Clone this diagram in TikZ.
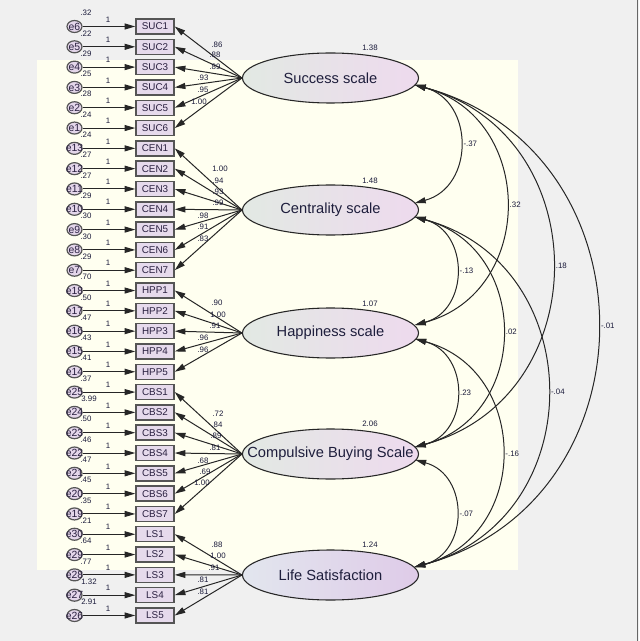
\documentclass[tikz,border=0pt]{standalone}
\usepackage{fontspec}
\setmainfont{Liberation Sans}
\usetikzlibrary{arrows.meta,shapes.geometric,calc}
\definecolor{bggray}{HTML}{F0F0F0}
\definecolor{bgyel}{HTML}{FFFFF0}
\definecolor{boxline}{HTML}{555555}
\definecolor{boxfill}{HTML}{E6DAEC}
\definecolor{errfill}{HTML}{E4D6EA}
\definecolor{latl}{HTML}{E2E9E3}
\definecolor{latr}{HTML}{EEDAEE}
\definecolor{latlb}{HTML}{E2E6EE}
\definecolor{latrb}{HTML}{DFCBE8}
\definecolor{numc}{HTML}{1A1A3A}
\definecolor{boxtext}{HTML}{2A2040}
\definecolor{lattext}{HTML}{1E1E3C}
\begin{document}
\begin{tikzpicture}[x=0.75pt,y=-0.75pt,
  every node/.style={inner sep=0pt},
  num/.style={font=\fontsize{5.9}{7}\selectfont, text=numc},
  box/.style={rectangle, draw=boxline, line width=1.1pt, fill=boxfill, minimum width=28.5pt, minimum height=11.25pt, font=\fontsize{7.4}{8}\selectfont, text=boxtext},
  err/.style={ellipse, draw=boxline, line width=0.9pt, fill=errfill, minimum width=11.25pt, minimum height=9pt},
  errlab/.style={font=\fontsize{7.8}{9}\selectfont, text=boxtext},
  lat/.style={ellipse, draw=black!85, line width=0.8pt, minimum width=132pt, minimum height=37.5pt, left color=latl, right color=latr},
  latb/.style={lat, left color=latlb, right color=latrb},
  lattxt/.style={font=\fontsize{11}{13}\selectfont, text=lattext},
  arr/.style={-{Triangle[length=8pt,width=4.5pt]}, line width=0.75pt, draw=black!85},
  cov/.style={{Triangle[length=8pt,width=4.5pt]}-{Triangle[length=8pt,width=4.5pt]}, line width=0.75pt, draw=black!85},
  bl/.style={bend left=75, looseness=1.34}
]
\useasboundingbox (0,0) rectangle (639,641);
\fill[bggray] (0,0) rectangle (639,641);
\fill[bgyel] (37,60) rectangle (518,570);
\draw[gray!80!black, line width=1pt] (637.5,0) -- (637.5,641);

% indicators and errors
\foreach \i/\b/\e/\v/\vx in {0/SUC1/6/.32/86, 1/SUC2/5/.22/86, 2/SUC3/4/.29/86, 3/SUC4/3/.25/86, 4/SUC5/2/.28/86, 5/SUC6/1/.24/86,
  6/CEN1/13/.24/86, 7/CEN2/12/.27/86, 8/CEN3/11/.27/86, 9/CEN4/10/.29/86, 10/CEN5/9/.30/86, 11/CEN6/8/.30/86, 12/CEN7/7/.29/86,
  13/HPP1/18/.70/86, 14/HPP2/17/.50/86, 15/HPP3/16/.47/86, 16/HPP4/15/.43/86, 17/HPP5/14/.41/86,
  18/CBS1/25/.37/86, 19/CBS2/24/3.99/89, 20/CBS3/23/.50/86, 21/CBS4/22/.46/86, 22/CBS5/21/.47/86, 23/CBS6/20/.45/86, 24/CBS7/19/.35/86,
  25/LS1/30/.21/86, 26/LS2/29/.64/86, 27/LS3/28/.77/86, 28/LS4/27/1.32/89, 29/LS5/26/2.91/89} {
  \pgfmathsetmacro\yy{26.5+20.31*\i}
  \node[box] (\b) at (155,\yy) {\b};
  \node[err, label={[errlab]center:e\e}] (e\e) at (74.5,\yy) {};
  \draw[arr] (e\e) -- (\b);
  \node[num] at (108,\yy-7) {1};
  \node[num] at (\vx,\yy-13.5) {\v};
}

% latent variables
\node[lat, label={[lattxt]center:Success scale}] (S) at (330.5,78) {};
\node[lat, label={[lattxt]center:Centrality scale}] (C) at (330.5,210) {};
\node[lat, label={[lattxt]center:Happiness scale}] (H) at (330.5,333) {};
\node[lat, label={[lattxt]center:Compulsive Buying Scale}] (B) at (330.5,454) {};
\node[latb, label={[lattxt]center:Life Satisfaction}] (L) at (330.5,575) {};

\node[num] at (370,48) {1.38};
\node[num] at (370,181) {1.48};
\node[num] at (370,304) {1.07};
\node[num] at (370,424) {2.06};
\node[num] at (370,545) {1.24};

% loadings
\foreach \b/\lx/\ly/\t in {SUC1/217/45/.86, SUC2/215/55/.88, SUC3/215/67/.89, SUC4/203/78/.93, SUC5/203/90/.95, SUC6/199/102/1.00}{
  \draw[arr] (S.west) -- (\b.east); \node[num] at (\lx,\ly) {\t};}
\foreach \b/\lx/\ly/\t in {CEN1/220/169/1.00, CEN2/218/181/.94, CEN3/218/192/.93, CEN4/218/203/.99, CEN5/203/216/.98, CEN6/203/227/.91, CEN7/203/239/.83}{
  \draw[arr] (C.west) -- (\b.east); \node[num] at (\lx,\ly) {\t};}
\foreach \b/\lx/\ly/\t in {HPP1/217/303/.90, HPP2/218/315/1.00, HPP3/215/326/.91, HPP4/203/338/.96, HPP5/203/350/.96}{
  \draw[arr] (H.west) -- (\b.east); \node[num] at (\lx,\ly) {\t};}
\foreach \b/\lx/\ly/\t in {CBS1/218/414/.72, CBS2/217/425/.84, CBS3/216/436/.89, CBS4/215/448/.81, CBS5/203/461/.68, CBS6/205/472/.69, CBS7/202/483/1.00}{
  \draw[arr] (B.west) -- (\b.east); \node[num] at (\lx,\ly) {\t};}
\foreach \b/\lx/\ly/\t in {LS1/217/545/.88, LS2/218/556/1.00, LS3/214/568/.91, LS4/203/580/.81, LS5/203/592/.81}{
  \draw[arr] (L.west) -- (\b.east); \node[num] at (\lx,\ly) {\t};}

% attachment points for covariances
\coordinate (Sa) at ($(S.center)+(84.5,7)$);
\coordinate (Ci) at ($(C.center)+(84.5,-7)$);
\coordinate (Co) at ($(C.center)+(84.5,7)$);
\coordinate (Hi) at ($(H.center)+(84.5,-8)$);
\coordinate (Ho) at ($(H.center)+(85,6)$);
\coordinate (Bi) at ($(B.center)+(84.5,-7)$);
\coordinate (Bo) at ($(B.center)+(85,6)$);
\coordinate (La) at ($(L.center)+(84,-8)$);

\draw[cov] (Sa) to[bl] node[num, pos=.5, right=2.5pt] {-.37} (Ci);
\draw[cov] (Sa) to[bl] node[num, pos=.5, right=2.5pt] {.32} (Hi);
\draw[cov] (Sa) to[bl] node[num, pos=.5, right=2.5pt] {.18} (Bi);
\draw[cov] (Sa) to[bl] node[num, pos=.5, right=2.5pt] {-.01} (La);
\draw[cov] (Co) to[bl] node[num, pos=.5, right=2.5pt] {-.13} (Hi);
\draw[cov] (Co) to[bl] node[num, pos=.5, right=2.5pt] {.02} (Bi);
\draw[cov] (Co) to[bl] node[num, pos=.5, right=2.5pt] {-.04} (La);
\draw[cov] (Ho) to[bl] node[num, pos=.5, right=2.5pt] {.23} (Bi);
\draw[cov] (Ho) to[bl] node[num, pos=.5, right=2.5pt] {-.16} (La);
\draw[cov] (Bo) to[bl] node[num, pos=.5, right=2.5pt] {-.07} (La);
\end{tikzpicture}
\end{document}
